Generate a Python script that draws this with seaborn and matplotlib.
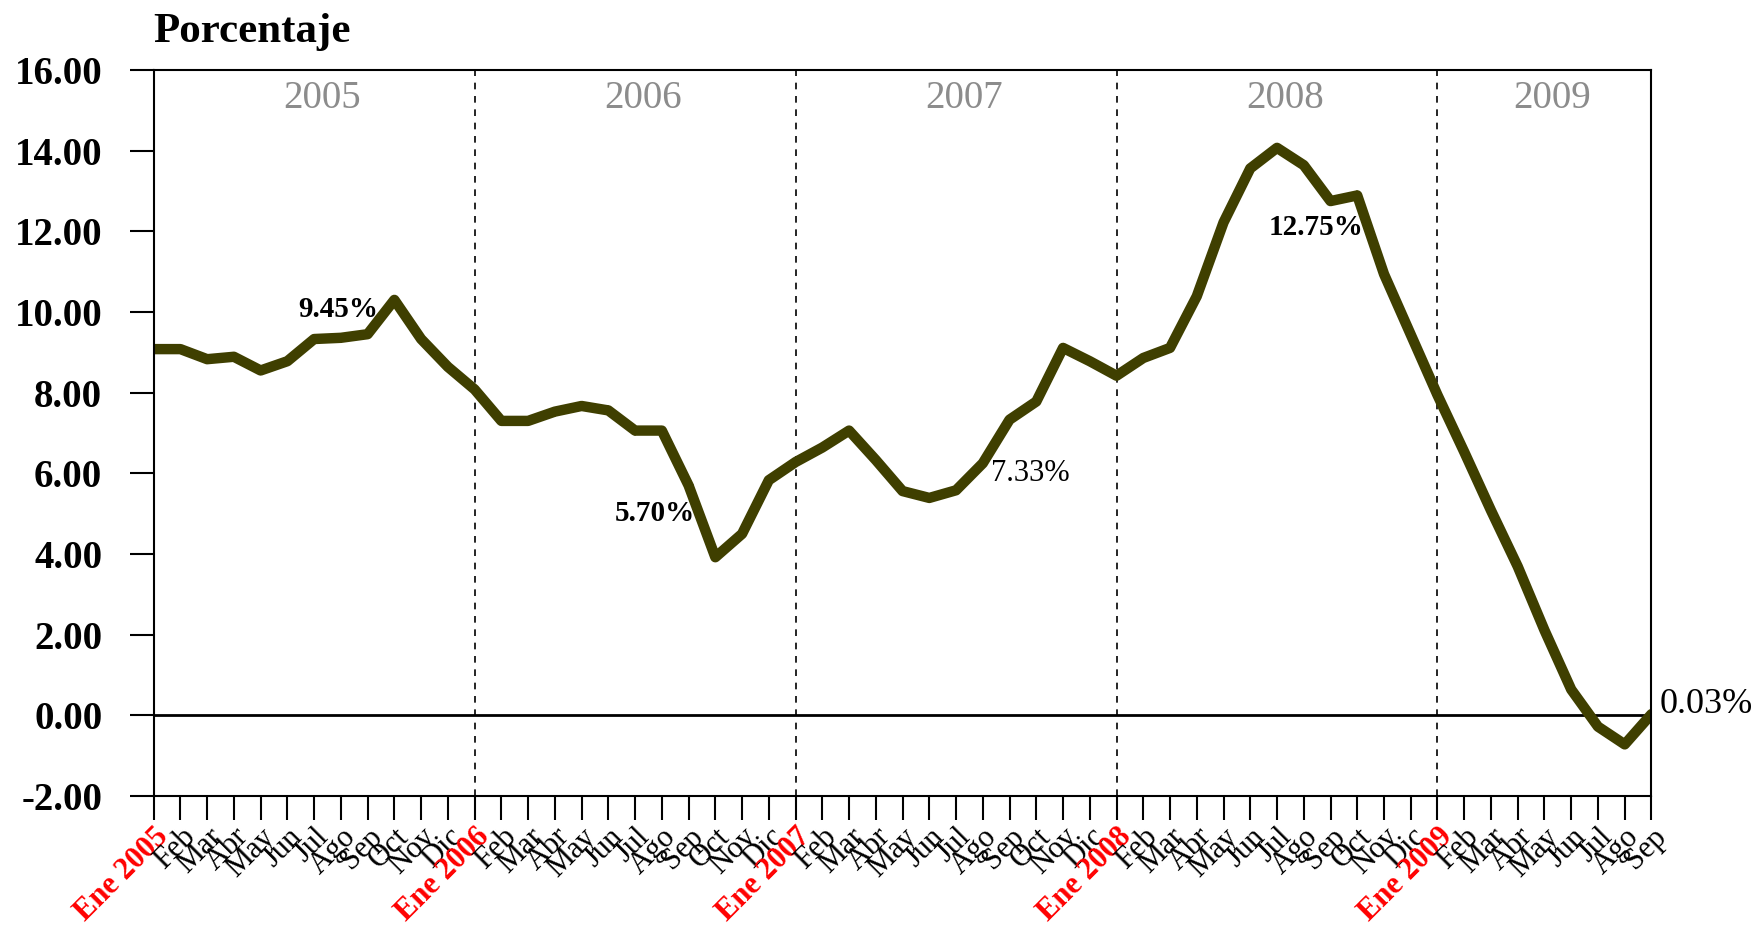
import matplotlib
matplotlib.use("Agg")
import matplotlib.pyplot as plt
import seaborn as sns
import pandas as pd

# ---- data ----
month_names = ["Ene", "Feb", "Mar", "Abr", "May", "Jun", "Jul", "Ago", "Sep", "Oct", "Nov", "Dic"]
years = [2005, 2006, 2007, 2008, 2009]
months_in_last_year = 9
values = [9.08, 9.08, 8.83, 8.89, 8.55, 8.78, 9.33, 9.36, 9.45, 10.30, 9.33, 8.64,
          8.08, 7.30, 7.30, 7.53, 7.67, 7.56, 7.06, 7.06, 5.70, 3.92, 4.50, 5.83,
          6.28, 6.64, 7.06, 6.33, 5.56, 5.39, 5.58, 6.25, 7.33, 7.78, 9.11, 8.78,
          8.42, 8.86, 9.11, 10.39, 12.22, 13.56, 14.07, 13.64, 12.75, 12.89, 10.94, 9.44,
          7.94, 6.53, 5.08, 3.69, 2.11, 0.64, -0.28, -0.72, 0.03]
label_texts = ["9.45%", "5.70%", "7.33%", "12.75%", "0.03%"]
y_ticks = [-2, 0, 2, 4, 6, 8, 10, 12, 14, 16]

# ---- build table ----
tick_labels = []
for y in years:
    n = 12 if y != years[-1] else months_in_last_year
    for m in range(n):
        tick_labels.append(f"Ene {y}" if m == 0 else month_names[m])
df = pd.DataFrame({"idx": range(len(values)), "valor": values, "mes": tick_labels})

sns.set_style("white")
plt.rcParams["font.family"] = ["Liberation Serif", "DejaVu Serif"]
plt.rcParams["text.color"] = "black"
plt.rcParams["xtick.color"] = "black"
plt.rcParams["ytick.color"] = "black"
plt.rcParams["xtick.labelcolor"] = "black"
plt.rcParams["ytick.labelcolor"] = "black"

fig = plt.figure(figsize=(17.58, 9.27), dpi=100)
ax = fig.add_axes([0.0874, 0.1413, 0.8520, 0.7832])

line_color = "#3f3f00"
sns.lineplot(data=df, x="idx", y="valor", ax=ax, color=line_color, linewidth=7.5,
             marker="D", markersize=5, markeredgewidth=0, solid_joinstyle="round")

ax.set_xlim(0, len(values) - 1)
ax.set_ylim(-2, 16)
ax.set_xlabel("")
ax.set_ylabel("")

# zero line
ax.axhline(0, color="black", linewidth=2, zorder=1)

# year separators and year titles
year_starts = [12 * i for i in range(len(years))]
for s in year_starts[1:]:
    ax.axvline(s, color="black", linewidth=1.2, linestyle=(0, (4, 4)), zorder=1)
for i, y in enumerate(years):
    s = year_starts[i]
    e = min(s + 12, len(values) - 1)
    ax.text((s + e) / 2 + 0.3, 15.3, str(y), color="#8c8c8c", fontsize=28,
            ha="center", va="center")

# y axis
ax.set_yticks(y_ticks)
ax.set_yticklabels([f"{v:.2f}" for v in y_ticks], fontsize=28, fontweight="bold")
ax.tick_params(axis="y", direction="out", length=17, width=1.5, pad=20, left=True)

# x axis
ax.set_xticks(df["idx"])
ax.set_xticklabels(df["mes"], rotation=45, ha="right", rotation_mode="anchor", fontsize=22)
ax.tick_params(axis="x", direction="out", length=17, width=1.5, pad=2, bottom=True)
for lab in ax.get_xticklabels():
    if lab.get_text().startswith("Ene"):
        lab.set_color("red")
        lab.set_fontweight("bold")

for sp in ax.spines.values():
    sp.set_color("black")
    sp.set_linewidth(1.5)

# annotations (September values)
ax.text(8.4, 10.05, label_texts[0], fontsize=21, fontweight="bold", ha="right", va="center")
ax.text(20.25, 5.0, label_texts[1], fontsize=21, fontweight="bold", ha="right", va="center")
ax.text(31.3, 6.0, label_texts[2], fontsize=22, ha="left", va="center")
ax.text(41.7, 12.09, label_texts[3], fontsize=21, fontweight="bold", ha="left", va="center")
ax.text(56.3, 0.27, label_texts[4], fontsize=26, ha="left", va="center", clip_on=False)

fig.text(0.087, 0.966, "Porcentaje", fontsize=31, fontweight="bold", ha="left", va="center")

fig.savefig("out.png", dpi=100)
